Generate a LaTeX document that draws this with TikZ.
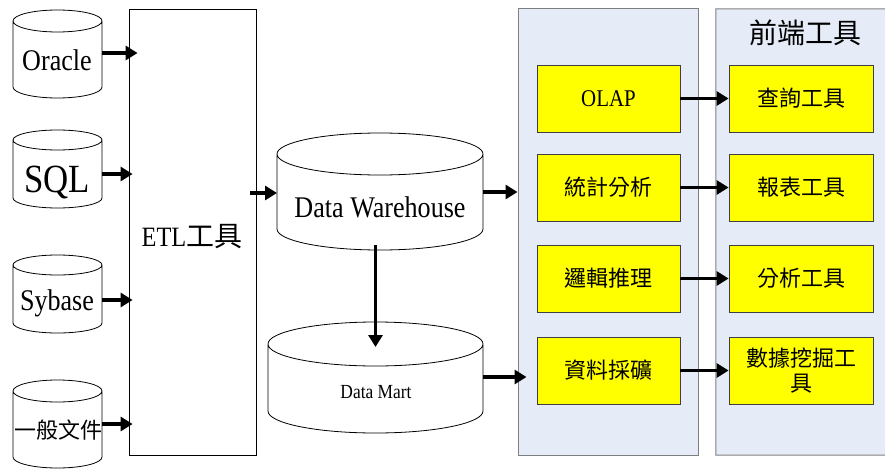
\documentclass[tikz,border=0pt]{standalone}
\usepackage{fontspec}
\setmainfont{Liberation Serif}[FakeStretch=0.87]
\newfontfamily\cjk{Noto Sans CJK TC}
\usetikzlibrary{arrows.meta,calc}
\newcommand\fs[1]{\fontsize{#1}{#1}\selectfont}
\newcommand\cyldraw[2]{%
  \draw[cylline] let \p1=(#1.north west), \p2=(#1.south east), \n1={(\x2-\x1)/2} in
    (\x1,\y1-#2pt) arc[start angle=180,end angle=-180,x radius=\n1,y radius=#2pt]
    (\x1,\y1-#2pt) -- (\x1,\y2+#2pt) arc[start angle=180,end angle=360,x radius=\n1,y radius=#2pt] -- (\x2,\y1-#2pt);}
\definecolor{panelfill}{HTML}{E6ECF7}
\definecolor{panelline}{HTML}{7F7F7F}
\definecolor{ylw}{HTML}{FFFF00}
\begin{document}
\begin{tikzpicture}[x=1pt,y=1pt,
  cylbox/.style={rectangle,draw=none,inner sep=0pt,outer sep=0pt},
  cylline/.style={draw=black,line width=0.8pt},
  lbl/.style={inner sep=0pt,outer sep=0pt},
  etlbox/.style={rectangle,draw=black,line width=0.8pt,inner sep=0pt,minimum width=127pt,minimum height=446pt},
  panel/.style={rectangle,fill=panelfill,draw=panelline,line width=1pt,inner sep=0pt},
  ybox/.style={rectangle,fill=ylw,draw=black!75,line width=0.8pt,inner sep=0pt,minimum height=67pt,align=center},
  arr/.style={line width=3.5pt,-{Triangle[length=12pt,width=14pt]}},
  cjkt/.style={font=\cjk\fs{22}}]
\useasboundingbox (0,0) rectangle (885,-468);
\fill[white] (0,0) rectangle (885,-468);

% panels
\node[panel,minimum width=180pt,minimum height=446pt] (pa) at (608,-232) {};
\node[rectangle,fill=panelfill,inner sep=0pt,minimum width=169pt,minimum height=446pt] (pb) at (800.5,-232) {};
\draw[panelline,line width=1pt] (885,-9) -- (pb.north west) -- (pb.south west) -- (885,-455);
\node[lbl,font=\cjk\fs{28}] (title) at (805,-33) {前端工具};

% source cylinders
\node[cylbox,minimum width=89pt,minimum height=88pt] (oracle) at (57.5,-54) {};
\node[cylbox,minimum width=89pt,minimum height=78pt] (sql) at (57.5,-169) {};
\node[cylbox,minimum width=89pt,minimum height=78pt] (sybase) at (57.5,-294) {};
\node[cylbox,minimum width=89pt,minimum height=88pt] (file) at (57.5,-424) {};
\cyldraw{oracle}{11}
\cyldraw{sql}{10}
\cyldraw{sybase}{10}
\cyldraw{file}{11}
\node[lbl,font=\fs{30}] (toracle) at (57,-60) {Oracle};
\node[lbl,font=\fs{40}] (tsql) at (57,-182) {SQL};
\node[lbl,font=\fs{30}] (tsybase) at (57,-303) {Sybase};
\node[lbl,cjkt] (tfile) at (58,-430) {一般文件};

% ETL
\node[etlbox] (etl) at (192.5,-232) {};
\node[lbl,font=\fs{28}] (tetl) at (192,-237) {ETL{\cjk 工具}};

% DW and DM
\node[cylbox,minimum width=206pt,minimum height=117pt] (dw) at (380,-191.5) {};
\node[cylbox,minimum width=215pt,minimum height=111pt] (dm) at (375.5,-377.5) {};
\cyldraw{dw}{21}
\cyldraw{dm}{22}
\node[lbl,font=\fs{30}] (tdw) at (380,-207) {Data Warehouse};
\node[lbl,font=\fs{20}] (tdm) at (376,-392) {Data Mart};

% yellow boxes
\node[ybox,minimum width=143pt,font=\fs{24}] (olap) at (608.5,-98.5) {OLAP};
\node[ybox,minimum width=143pt,cjkt] (stat) at (608.5,-187.5) {統計分析};
\node[ybox,minimum width=143pt,cjkt] (logic) at (608.5,-278.5) {邏輯推理};
\node[ybox,minimum width=143pt,cjkt] (mine) at (608.5,-370.5) {資料採礦};
\node[ybox,minimum width=144pt,cjkt] (query) at (801,-98.5) {查詢工具};
\node[ybox,minimum width=144pt,cjkt] (report) at (801,-187.5) {報表工具};
\node[ybox,minimum width=144pt,cjkt] (anal) at (801,-278.5) {分析工具};
\node[ybox,minimum width=144pt,font=\cjk\fontsize{22}{25}\selectfont] (dmt) at (801,-370.5) {數據挖掘工\\具};

% arrows sources -> ETL
\draw[arr,shorten >=-9pt] (oracle.east |- 0,-53) -- (etl.west |- 0,-53);
\draw[arr,shorten >=-4pt] (sql.east |- 0,-174) -- (etl.west |- 0,-174);
\draw[arr,shorten >=-4pt] (sybase.east |- 0,-300) -- (etl.west |- 0,-300);
\draw[arr,shorten >=-4pt] (file.east |- 0,-424) -- (etl.west |- 0,-424);

% ETL -> DW
\draw[arr,shorten <=-6pt] (etl.east |- 0,-193) -- (dw.west |- 0,-193);
% DW -> panel, DM -> panel
\draw[arr] (dw.east |- 0,-192) -- (pa.west |- 0,-192);
\draw[arr,shorten >=-9pt] (dm.east |- 0,-377) -- (pa.west |- 0,-377);
% DW -> DM
\draw[arr,shorten <=-5pt,shorten >=-25pt] (dw.south -| dm.north) -- (dm.north);

% box arrows
\draw[arr] (olap.east) -- (query.west);
\draw[arr] (stat.east) -- (report.west);
\draw[arr] (logic.east) -- (anal.west);
\draw[arr] (mine.east) -- (dmt.west);
\end{tikzpicture}
\end{document}
